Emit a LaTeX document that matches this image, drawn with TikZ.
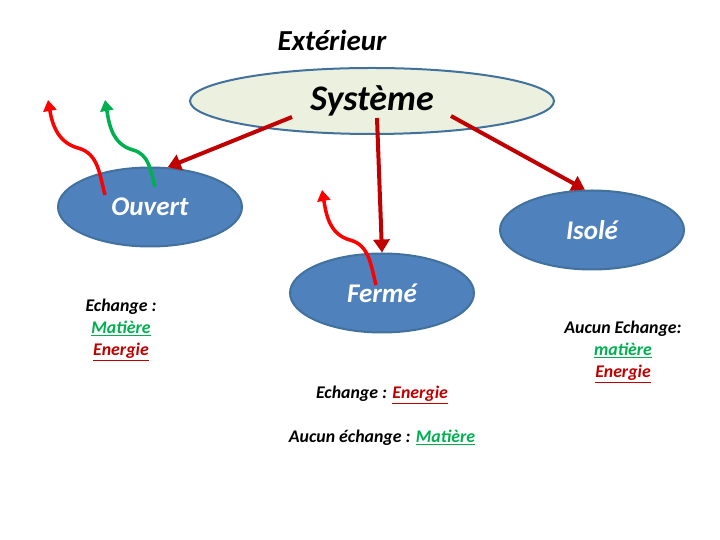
\documentclass[tikz,border=0pt]{standalone}
\usepackage{fontspec}
\setmainfont{Carlito}
\usepackage{xcolor}
\usetikzlibrary{positioning}
\usetikzlibrary{shapes.geometric}
\usetikzlibrary{arrows.meta}
\definecolor{bordbleu}{HTML}{41719C}
\definecolor{fondsys}{HTML}{EBF1DE}
\definecolor{bleu}{HTML}{4F81BD}
\definecolor{rougefonce}{HTML}{C00000}
\definecolor{rouge}{HTML}{FF0000}
\definecolor{vert}{HTML}{00B050}
\newcommand{\souligne}[2]{\textcolor{#1}{\underline{#2}}}

\begin{document}
\begin{tikzpicture}[x=1pt,y=1pt,
    sysnode/.style={ellipse,draw=bordbleu,line width=2pt,fill=fondsys,minimum width=364pt,minimum height=66pt,font=\fontsize{36}{40}\selectfont\bfseries\itshape},
    typenode/.style={ellipse,draw=bordbleu,line width=2pt,fill=bleu,minimum width=184pt,minimum height=79pt,text=white,font=\fontsize{27}{32}\selectfont\bfseries\itshape},
    petit/.style={align=center,font=\fontsize{17.8}{22}\selectfont\bfseries\itshape},
    fleche/.style={draw=rougefonce,line width=4pt,-{Triangle[width=16pt,length=13pt]}},
    echange/.style={line width=3.5pt,-{Triangle[width=13pt,length=11pt]}}]
            \useasboundingbox (0,0) rectangle (720,540);
            % Systeme and the three kinds
            \node[font=\fontsize{29}{34}\selectfont\bfseries\itshape] (ext) at (332,500) {Extérieur};
            \node[sysnode] (sys) at (372,439) {Système};
            \node[typenode] (ouvert) at (150,333) {Ouvert};
            \node[typenode] (ferme) at (382,247) {Fermé};
            \node[typenode] (isole) at (592,310) {Isolé};
            % Arrows from the systeme
            \coordinate (depA) at (292,423);
            \coordinate (depB) at (377,422);
            \coordinate (depC) at (451,424);
            \draw[fleche] (depA) -- (ouvert.66);
            \draw[fleche] (depB) -- (ferme.north);
            \draw[fleche] (depC) -- (isole.100);
            % Exchanges
            \coordinate (ouvR) at (105,345);
            \coordinate (ouvRm) at (78,392);
            \coordinate (ouvRt) at (48,440);
            \coordinate (ouvV) at (155,353);
            \coordinate (ouvVm) at (133,390);
            \coordinate (ouvVt) at (105,440);
            \coordinate (ferR) at (376,255);
            \coordinate (ferRm) at (350,300);
            \coordinate (ferRt) at (322,350);
            \draw[echange,rouge] (ouvR) to[out=105,in=-15] (ouvRm) to[out=165,in=-80] (ouvRt);
            \draw[echange,vert] (ouvV) to[out=105,in=-15] (ouvVm) to[out=165,in=-80] (ouvVt);
            \draw[echange,rouge] (ferR) to[out=105,in=-15] (ferRm) to[out=165,in=-80] (ferRt);
            % Texts
            \node[petit] (txtouvert) at (121,210) {Echange :\\\souligne{vert}{Matière}\\\souligne{rougefonce}{Energie}};
            \node[petit] (txtferme) at (382,145) {Echange : \souligne{rougefonce}{Energie}};
            \node[petit] (txtferme2) at (382,102) {Aucun échange : \souligne{vert}{Matière}};
            \node[petit] (txtisole) at (623,188) {Aucun Echange:\\\souligne{vert}{matière}\\\souligne{rougefonce}{Energie}};
        \end{tikzpicture}
\end{document}
